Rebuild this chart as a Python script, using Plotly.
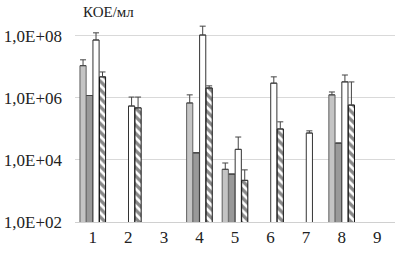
import plotly.graph_objects as go

categories = ["1", "2", "3", "4", "5", "6", "7", "8", "9"]

series_a = [1.1e7, None, None, 6.9e5, 5.0e3, None, None, 1.26e6, None]
err_a = [6e6, 0, 0, 5.7e5, 3e3, 0, 0, 3e5, 0]

series_b = [1.2e6, None, None, 1.7e4, 3.5e3, None, None, 3.5e4, None]
err_b = [0, 0, 0, 0, 0, 0, 0, 0, 0]

series_c = [7.4e7, 5.5e5, None, 1.07e8, 2.2e4, 3.0e6, 7.4e4, 3.3e6, None]
err_c = [5.2e7, 5.2e5, 0, 1.0e8, 3.3e4, 1.8e6, 1.3e4, 2.2e6, 0]

series_d = [4.8e6, 4.8e5, None, 2.1e6, 2.2e3, 1.0e5, None, 5.9e5, None]
err_d = [2.1e6, 5.9e5, 0, 3.6e5, 2.6e3, 7e4, 0, 2.7e6, 0]

tick_vals = [1e2, 1e4, 1e6, 1e8]
tick_text = ["1,0E+02", "1,0E+04", "1,0E+06", "1,0E+08"]

font_family = "Times New Roman, Liberation Serif, serif"
title_family = "Times New Roman, DejaVu Serif, serif"

def err(vals):
    return dict(type="data", array=vals, arrayminus=[0] * len(vals), symmetric=False,
                color="#444444", thickness=1, width=3)

fig = go.Figure()
fig.add_trace(go.Bar(x=categories, y=series_a, error_y=err(err_a),
                     marker=dict(color="#c4c4c4", line=dict(color="#5e5e5e", width=1))))
fig.add_trace(go.Bar(x=categories, y=series_b, error_y=err(err_b),
                     marker=dict(color="#999999", line=dict(color="#707070", width=1))))
fig.add_trace(go.Bar(x=categories, y=series_c, error_y=err(err_c),
                     marker=dict(color="#ffffff", line=dict(color="#333333", width=1))))
fig.add_trace(go.Bar(x=categories, y=series_d, error_y=err(err_d),
                     marker=dict(color="#ffffff", line=dict(color="#111111", width=1),
                                 pattern=dict(shape="\\", fgcolor="#111111", bgcolor="#ffffff",
                                              size=6, solidity=0.55))))

fig.update_layout(
    width=395, height=253,
    margin=dict(l=75, r=0, t=22, b=31),
    paper_bgcolor="white", plot_bgcolor="white",
    barmode="group", bargap=0.27, bargroupgap=0.05,
    showlegend=False,
    font=dict(family=font_family, size=16, color="#222222"),
    annotations=[dict(text="КОЕ/мл", xref="paper", yref="paper", x=0.02, y=1.0,
                      xanchor="left", yanchor="bottom", yshift=0, showarrow=False,
                      font=dict(family=title_family, size=15, color="#222222"))],
)
fig.update_xaxes(showgrid=False, showline=True, linecolor="#d0d0d0", linewidth=1,
                 ticks="", tickfont=dict(family=font_family, size=17), automargin=False,
                 fixedrange=True)
fig.update_yaxes(type="log", range=[2, 8.45], tickvals=tick_vals, ticktext=tick_text,
                 showgrid=True, gridcolor="#d9d9d9", gridwidth=1, zeroline=False,
                 tickfont=dict(family=font_family, size=17), ticklabelstandoff=12,
                 automargin=False, fixedrange=True)

fig.write_html("out.html", config={"displayModeBar": False},
               post_script="document.body.style.margin='0';")
